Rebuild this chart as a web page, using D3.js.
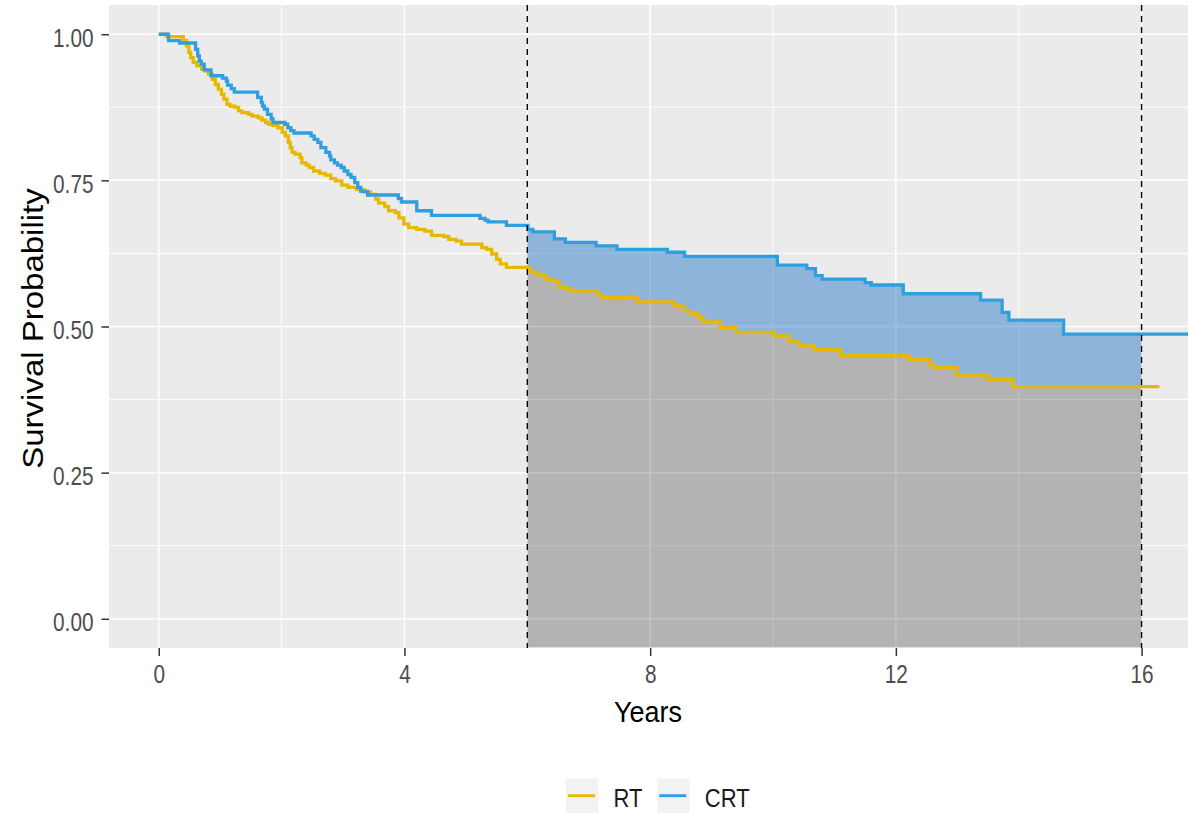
<!DOCTYPE html>
<html>
<head>
<meta charset="utf-8">
<script src="https://cdn.jsdelivr.net/npm/d3@7"></script>
<style>
  body { margin: 0; background: #ffffff; }
  svg { display: block; }
  text { font-family: "Liberation Sans", Arial, sans-serif; }
</style>
</head>
<body>
<svg id="chart" width="1188" height="813"></svg>
<script>
// Kaplan-Meier step estimates (time in years, survival probability after each step)
const rtTime = [0, 0.13, 0.40, 0.45, 0.49, 0.52, 0.56, 0.62, 0.70, 0.76, 0.81, 0.87, 0.92, 0.97, 1.02, 1.06, 1.11,
  1.16, 1.24, 1.30, 1.35, 1.46, 1.52, 1.62, 1.68, 1.74, 1.79, 1.86, 1.94, 2.01, 2.06, 2.11, 2.14, 2.17, 2.22,
  2.30, 2.33, 2.40, 2.45, 2.52, 2.62, 2.71, 2.80, 2.88, 2.98, 3.08, 3.22, 3.35, 3.45, 3.53, 3.58, 3.68, 3.74,
  3.85, 3.91, 3.99, 4.07, 4.20, 4.33, 4.44, 4.64, 4.72, 4.84, 4.93, 5.26, 5.34, 5.42, 5.50, 5.56, 5.66, 6.05,
  6.18, 6.30, 6.40, 6.52, 6.66, 6.72, 7.14, 7.22, 7.79, 8.39, 8.50, 8.56, 8.66, 8.78, 8.86, 9.14, 9.40, 10.02,
  10.26, 10.38, 10.44, 10.67, 11.10, 12.20, 12.55, 12.62, 12.99, 13.50, 13.91];
const rtSurv = [1.000, 0.996, 0.989, 0.980, 0.969, 0.960, 0.952, 0.946, 0.940, 0.937, 0.932, 0.923, 0.914, 0.906,
  0.897, 0.889, 0.880, 0.877, 0.875, 0.869, 0.866, 0.863, 0.860, 0.857, 0.853, 0.849, 0.846, 0.844, 0.840, 0.832,
  0.826, 0.815, 0.806, 0.798, 0.795, 0.789, 0.780, 0.776, 0.772, 0.766, 0.762, 0.759, 0.753, 0.749, 0.742, 0.738,
  0.734, 0.730, 0.726, 0.718, 0.711, 0.705, 0.698, 0.695, 0.686, 0.675, 0.669, 0.666, 0.663, 0.656, 0.654, 0.649,
  0.646, 0.641, 0.635, 0.632, 0.624, 0.615, 0.607, 0.601, 0.593, 0.588, 0.581, 0.578, 0.567, 0.564, 0.561, 0.555,
  0.550, 0.542, 0.536, 0.534, 0.527, 0.523, 0.515, 0.508, 0.498, 0.490, 0.484, 0.475, 0.473, 0.467, 0.461, 0.450,
  0.444, 0.435, 0.430, 0.417, 0.409, 0.397];
const rtEnd = 16.29;

const crtTime = [0, 0.16, 0.34, 0.60, 0.635, 0.66, 0.69, 0.74, 0.85, 1.04, 1.10, 1.12, 1.18, 1.23, 1.61, 1.67, 1.69,
  1.72, 1.77, 1.83, 1.86, 2.05, 2.10, 2.15, 2.20, 2.48, 2.53, 2.59, 2.64, 2.72, 2.78, 2.80, 2.86, 2.91, 2.97, 3.02,
  3.08, 3.13, 3.19, 3.24, 3.29, 3.40, 3.90, 3.95, 4.20, 4.44, 5.23, 5.31, 5.36, 5.66, 6.01, 6.09, 6.44, 6.62, 7.12,
  7.46, 8.28, 8.56, 10.07, 10.55, 10.69, 10.80, 11.50, 11.60, 12.12, 13.38, 13.73, 13.84, 14.73];
const crtSurv = [1.000, 0.989, 0.985, 0.974, 0.963, 0.954, 0.949, 0.939, 0.929, 0.925, 0.920, 0.913, 0.907, 0.901,
  0.892, 0.883, 0.877, 0.872, 0.863, 0.855, 0.849, 0.846, 0.840, 0.835, 0.831, 0.826, 0.820, 0.815, 0.806, 0.798,
  0.792, 0.785, 0.780, 0.776, 0.772, 0.766, 0.760, 0.755, 0.746, 0.738, 0.731, 0.725, 0.719, 0.713, 0.698, 0.690,
  0.685, 0.682, 0.679, 0.673, 0.666, 0.662, 0.650, 0.644, 0.638, 0.632, 0.627, 0.620, 0.605, 0.599, 0.587, 0.581,
  0.575, 0.571, 0.556, 0.545, 0.524, 0.511, 0.487];
const crtEnd = 17.2;

const groupNames = ["RT", "CRT"];
const groupColors = ["#E7B800", "#2E9FDF"];

const xTicks = [0, 4, 8, 12, 16];
const xMinor = [2, 6, 10, 14];
const yTicks = [0, 0.25, 0.5, 0.75, 1];
const yMinor = [0.125, 0.375, 0.625, 0.875];

// restricted window highlighted between two landmark times
const windowStart = 6;
const windowEnd = 16;

const xLabel = "Years";
const yLabel = "Survival Probability";

// ---------------------------------------------------------------
const svg = d3.select("#chart");
const panel = { left: 109, right: 1203, top: 5, bottom: 648 };
const SX = 0.8; // horizontal squeeze used on all text

const x = d3.scaleLinear().domain([-0.81, 17.0]).range([panel.left, panel.right]);
const y = d3.scaleLinear().domain([-0.05, 1.05]).range([panel.bottom, panel.top]);

svg.append("defs").append("clipPath").attr("id", "panelClip")
  .append("rect")
  .attr("x", panel.left).attr("y", panel.top)
  .attr("width", panel.right - panel.left).attr("height", panel.bottom - panel.top);

// panel background
svg.append("rect")
  .attr("x", panel.left).attr("y", panel.top)
  .attr("width", panel.right - panel.left).attr("height", panel.bottom - panel.top)
  .attr("fill", "#EBEBEB");

const grid = svg.append("g");
grid.selectAll(".vminor").data(xMinor).join("line")
  .attr("x1", d => x(d)).attr("x2", d => x(d))
  .attr("y1", panel.top).attr("y2", panel.bottom)
  .attr("stroke", "#fff").attr("stroke-width", 0.9);
grid.selectAll(".hminor").data(yMinor).join("line")
  .attr("y1", d => y(d)).attr("y2", d => y(d))
  .attr("x1", panel.left).attr("x2", panel.right)
  .attr("stroke", "#fff").attr("stroke-width", 0.9);
grid.selectAll(".vmajor").data(xTicks).join("line")
  .attr("x1", d => x(d)).attr("x2", d => x(d))
  .attr("y1", panel.top).attr("y2", panel.bottom)
  .attr("stroke", "#fff").attr("stroke-width", 1.5);
grid.selectAll(".hmajor").data(yTicks).join("line")
  .attr("y1", d => y(d)).attr("y2", d => y(d))
  .attr("x1", panel.left).attr("x2", panel.right)
  .attr("stroke", "#fff").attr("stroke-width", 1.5);

// step-function helpers
function survAt(times, surv, t) {
  const i = d3.bisectRight(times, t) - 1;
  return surv[Math.max(0, i)];
}
function stepPoints(times, surv, end) {
  const pts = times.map((t, i) => [t, surv[i]]);
  pts.push([end, surv[surv.length - 1]]);
  return pts;
}

// shaded areas within the window
const cuts = Array.from(new Set(
  [windowStart, windowEnd]
    .concat(rtTime.filter(t => t > windowStart && t < windowEnd))
    .concat(crtTime.filter(t => t > windowStart && t < windowEnd))
)).sort((a, b) => a - b);
const windowData = cuts.map(t => ({
  t: t,
  rt: survAt(rtTime, rtSurv, t),
  crt: survAt(crtTime, crtSurv, t)
}));

const fills = svg.append("g").attr("clip-path", "url(#panelClip)");
fills.append("path")
  .datum(windowData)
  .attr("d", d3.area().curve(d3.curveStepAfter)
    .x(d => x(d.t)).y0(panel.bottom).y1(d => y(d.rt)))
  .attr("fill", "rgb(0,0,0)").attr("fill-opacity", 0.235);
fills.append("path")
  .datum(windowData)
  .attr("d", d3.area().curve(d3.curveStepAfter)
    .x(d => x(d.t)).y0(d => y(d.rt)).y1(d => y(d.crt)))
  .attr("fill", "rgb(40,120,200)").attr("fill-opacity", 0.47);
fills.append("line")
  .attr("x1", x(windowStart)).attr("x2", x(windowEnd))
  .attr("y1", panel.bottom - 0.5).attr("y2", panel.bottom - 0.5)
  .attr("stroke", "#E7E7A0").attr("stroke-width", 1);

// survival curves
const line = d3.line().curve(d3.curveStepAfter).x(d => x(d[0])).y(d => y(d[1]));
const curves = svg.append("g").attr("clip-path", "url(#panelClip)");
curves.append("path")
  .datum(stepPoints(rtTime, rtSurv, rtEnd))
  .attr("d", line).attr("fill", "none")
  .attr("stroke", groupColors[0]).attr("stroke-width", 3.3);
curves.append("path")
  .datum(stepPoints(crtTime, crtSurv, crtEnd))
  .attr("d", line).attr("fill", "none")
  .attr("stroke", groupColors[1]).attr("stroke-width", 3.3);

// landmark lines
svg.append("g").selectAll("line").data([windowStart, windowEnd]).join("line")
  .attr("x1", d => x(d)).attr("x2", d => x(d))
  .attr("y1", panel.top).attr("y2", panel.bottom)
  .attr("stroke", "#000").attr("stroke-width", 1.4)
  .attr("stroke-dasharray", "6,5");

// axes
const xAxis = svg.append("g")
  .attr("transform", `translate(0,${panel.bottom})`)
  .call(d3.axisBottom(x).tickValues(xTicks).tickFormat(d3.format("d")).tickSize(8).tickSizeOuter(0));
const yAxis = svg.append("g")
  .attr("transform", `translate(${panel.left},0)`)
  .call(d3.axisLeft(y).tickValues(yTicks).tickFormat(d3.format(".2f")).tickSize(7.5).tickSizeOuter(0));

[xAxis, yAxis].forEach(ax => {
  ax.select(".domain").remove();
  ax.selectAll(".tick line").attr("stroke", "#333333").attr("stroke-width", 1.5);
  ax.selectAll(".tick text")
    .attr("fill", "#4D4D4D")
    .attr("font-size", 26)
    .attr("dy", null);
});
xAxis.selectAll(".tick text")
  .attr("y", 35.5).attr("x", 0)
  .attr("transform", `scale(${SX},1)`);
yAxis.selectAll(".tick text")
  .attr("y", 12).attr("x", -15.5 / SX)
  .attr("text-anchor", "end")
  .attr("transform", `scale(${SX},1)`);

// axis titles
svg.append("text")
  .attr("transform", `translate(648,722) scale(0.9,1)`)
  .attr("text-anchor", "middle")
  .attr("font-size", 30)
  .attr("fill", "#000")
  .text(xLabel);
svg.append("text")
  .attr("transform", `translate(43,328.5) scale(0.88,1) rotate(-90)`)
  .attr("text-anchor", "middle")
  .attr("font-size", 33)
  .attr("fill", "#000")
  .text(yLabel);

// legend
const legendKeyX = [566, 657.3];
const legend = svg.append("g");
groupNames.forEach((name, i) => {
  const kx = legendKeyX[i];
  legend.append("rect")
    .attr("x", kx).attr("y", 778.3).attr("width", 32.3).attr("height", 34.5)
    .attr("fill", "#F2F2F2");
  legend.append("line")
    .attr("x1", kx + 2).attr("x2", kx + 29)
    .attr("y1", 795.7).attr("y2", 795.7)
    .attr("stroke", groupColors[i]).attr("stroke-width", 2.9);
  legend.append("text")
    .attr("transform", `translate(${kx + 47.5},806.7) scale(0.86,1)`)
    .attr("font-size", 25.6)
    .attr("fill", "#1A1A1A")
    .text(name);
});
</script>
</body>
</html>
